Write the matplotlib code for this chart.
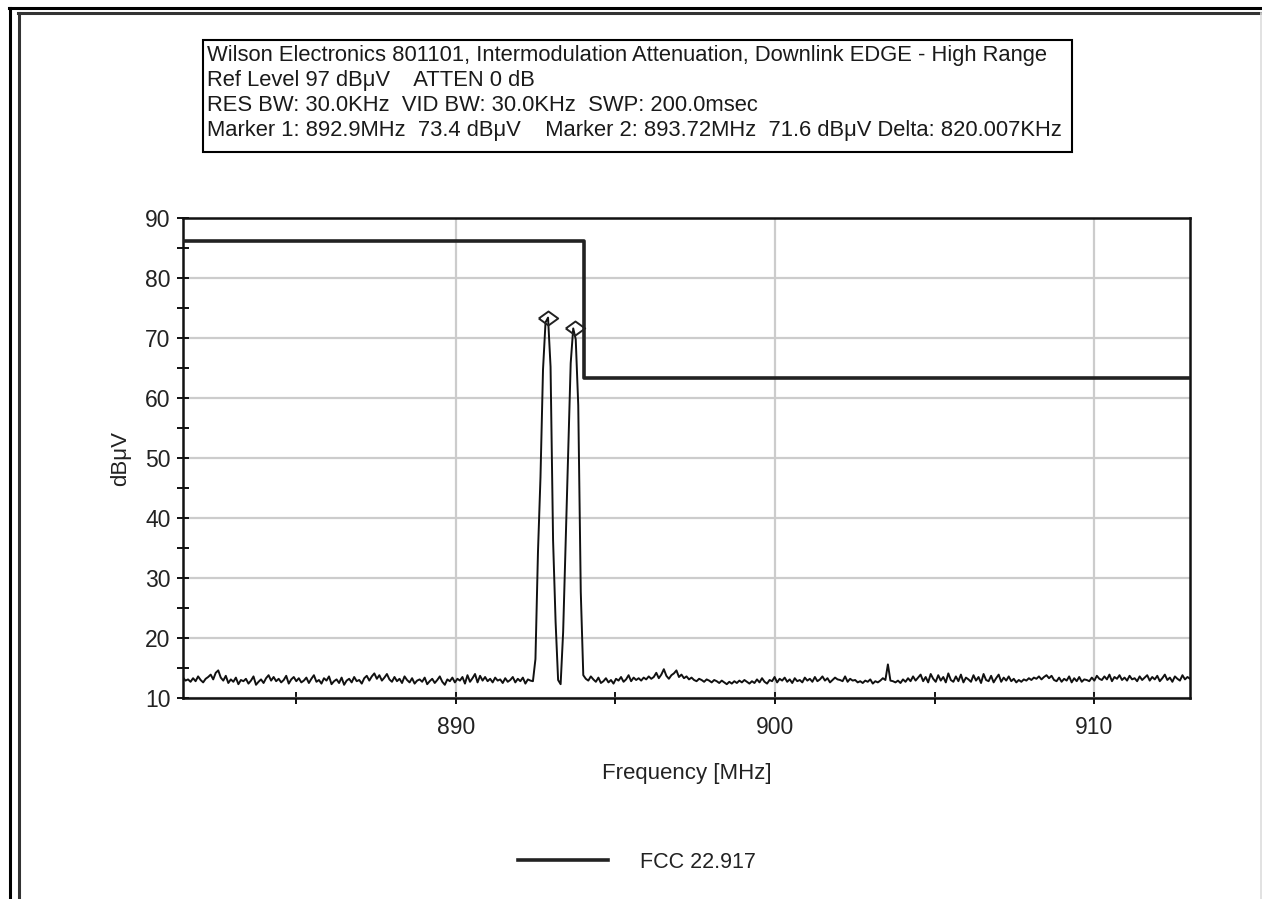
import matplotlib
matplotlib.use("Agg")
import matplotlib.pyplot as plt
from matplotlib.lines import Line2D
from matplotlib.patches import Rectangle
import numpy as np

plt.rcParams['font.family'] = ['Liberation Sans', 'DejaVu Sans']

# Header lines
header = [
    "Wilson Electronics 801101, Intermodulation Attenuation, Downlink EDGE - High Range",
    "Ref Level 97 dB\u03bcV    ATTEN 0 dB",
    "RES BW: 30.0KHz  VID BW: 30.0KHz  SWP: 200.0msec",
    "Marker 1: 892.9MHz  73.4 dB\u03bcV    Marker 2: 893.72MHz  71.6 dB\u03bcV Delta: 820.007KHz",
]

# Sweep: start / stop frequency (MHz) and number of points
f_start, f_stop, n_points = 881.45, 913.0, 401

# Measured trace (dBuV), one value per sweep point
trace = [
    13.4, 12.9, 13.1, 12.7, 13.3, 12.8, 13.6, 13.0, 12.6, 13.2, 13.5, 13.9, 13.1, 14.2, 14.6, 13.4, 12.9, 13.7, 12.5, 13.1,
    12.7, 13.4, 12.3, 13.0, 12.8, 13.2, 12.4, 12.9, 13.6, 12.2, 12.7, 13.1, 12.5, 13.3, 13.8, 12.9, 13.5, 12.8, 13.2, 12.6,
    13.0, 13.7, 12.4, 13.1, 13.5, 12.8, 13.3, 12.6, 12.9, 13.4, 12.5, 13.2, 13.8, 12.7, 13.0, 12.4, 13.3, 12.9, 13.6, 12.3,
    12.8, 13.1, 12.5, 13.4, 12.2, 12.9, 13.2, 12.6, 13.5, 12.8, 13.0, 12.4, 13.3, 13.7, 12.9, 13.6, 14.1, 13.2, 13.8, 12.9,
    13.4, 14.0, 13.1, 12.7, 13.5, 12.8, 13.2, 12.5, 13.6, 13.0, 12.6, 13.3, 12.4, 12.9, 13.1, 12.7, 13.4, 12.3, 12.8, 13.2,
    12.5, 13.0, 13.6, 12.7, 12.2, 13.1, 12.8, 13.4, 12.6, 13.2, 12.9, 13.5, 12.4, 13.8, 12.7, 13.3, 14.0, 12.6, 13.7, 12.9,
    13.5, 12.8, 13.2, 12.6, 13.4, 12.9, 13.1, 12.5, 13.3, 12.7, 13.0, 13.5, 12.6, 13.2, 12.8, 13.4, 12.4, 13.1, 12.9, 12.8,
    16.5, 34.3, 46.8, 64.7, 72.6, 73.4, 65.2, 36.3, 22.7, 13.0, 12.3, 21.0, 36.0, 51.0, 65.8, 71.6, 69.8, 58.8, 27.7, 13.8,
    13.2, 12.9, 13.6, 13.1, 12.7, 13.4, 12.5, 12.8, 13.3, 12.6, 13.0, 12.4, 13.2, 12.9, 13.5, 12.7, 13.1, 13.8, 12.8, 13.4,
    13.0, 13.3, 12.9, 13.4, 13.1, 13.6, 13.2, 13.5, 14.2, 13.3, 13.9, 14.8, 13.7, 13.2, 13.8, 14.1, 14.6, 13.5, 13.9, 13.3,
    13.6, 13.1, 13.4, 13.0, 12.8, 13.2, 13.0, 12.7, 13.1, 12.9, 12.6, 13.0, 12.8, 12.5, 12.9, 12.6, 12.3, 12.7, 12.4, 12.8,
    12.5, 12.9, 12.6, 13.0, 12.7, 12.4, 12.8, 12.5, 13.1, 12.6, 13.3, 12.7, 12.4, 13.0, 12.8, 13.5, 12.6, 13.2, 12.9, 13.4,
    12.7, 13.1, 12.5, 13.3, 12.8, 13.0, 12.6, 13.4, 12.9, 13.2, 12.7, 13.5, 12.8, 13.1, 13.6, 12.9, 13.3, 12.6, 13.0, 13.4,
    13.1, 13.0, 12.8, 13.6, 12.7, 13.2, 12.9, 13.0, 12.6, 12.8, 12.5, 12.9, 12.7, 13.1, 12.4, 12.8, 12.6, 12.9, 13.3, 13.0,
    15.6, 12.9, 12.8, 12.6, 12.9, 12.5, 13.1, 12.7, 13.3, 12.8, 13.6, 12.9, 13.4, 13.9, 12.8, 13.5, 12.6, 14.0, 13.2, 12.7,
    13.8, 12.9, 13.5, 12.6, 14.1, 13.0, 12.7, 13.6, 12.8, 13.9, 12.6, 13.4, 13.1, 12.7, 13.8, 12.9, 13.5, 12.5, 14.0, 13.0,
    12.8, 13.7, 12.6, 13.3, 13.9, 12.7, 13.4, 12.9, 13.6, 12.8, 13.2, 12.6, 13.0, 12.7, 13.1, 12.9, 13.3, 13.0, 13.4, 13.2,
    13.6, 13.1, 13.5, 13.8, 13.3, 13.7, 13.0, 12.8, 13.4, 12.7, 13.2, 12.9, 13.6, 12.6, 13.3, 12.8, 13.5, 12.7, 13.1, 13.0,
    12.8, 13.4, 12.9, 13.7, 13.2, 13.0, 13.6, 13.1, 13.9, 12.8, 13.5, 13.2, 13.8, 13.0, 13.4, 12.9, 13.7, 13.1, 13.3, 12.8,
    13.6, 13.0, 13.4, 13.8, 12.9, 13.5, 13.1, 13.7, 12.8, 13.3, 13.9, 13.0, 13.4, 12.7, 13.6, 13.2, 12.9, 13.8, 13.1, 13.5,
    13.2,
]

# FCC 22.917 limit line
limit_freq = [881.45, 894.0, 894.0, 913.0]
limit_level = [86.2, 86.2, 63.3, 63.3]
limit_label = "FCC 22.917"

# Markers
marker_freq = [892.9, 893.72]
marker_level = [73.4, 71.6]

freq = np.linspace(f_start, f_stop, n_points)

W, H = 1262, 899
fig = plt.figure(figsize=(W / 100, H / 100), dpi=100)
fig.patch.set_facecolor('white')

# Outer frames
fig.add_artist(Line2D([9 / W, 1], [1 - 8 / H, 1 - 8 / H], color='black', lw=2.2))
fig.add_artist(Line2D([9.5 / W, 9.5 / W], [0, 1 - 8 / H], color='black', lw=2.2))
fig.add_artist(Line2D([18 / W, 1261 / W], [1 - 13 / H, 1 - 13 / H], color='#333333', lw=2.2))
fig.add_artist(Line2D([18.5 / W, 18.5 / W], [0, 1 - 13 / H], color='#333333', lw=2.2))
fig.add_artist(Line2D([1260.5 / W, 1260.5 / W], [0, 1 - 13 / H], color='#dddddd', lw=1.2))

# Header box
fig.add_artist(Rectangle((203 / W, 1 - 152 / H), 869 / W, 112 / H, transform=fig.transFigure,
                         facecolor='white', edgecolor='black', lw=1.5))
for k, line in enumerate(header):
    fig.text(207 / W, 1 - (55 + k * 25.3) / H, line, ha='left', va='center',
             fontsize=15.8, color='#1a1a1a')

ax = fig.add_axes([183 / W, 1 - 698 / H, 1007 / W, 480 / H])

# Trace and limit line
ax.plot(freq, trace, color='#111111', lw=1.4, zorder=3)
limit, = ax.plot(limit_freq, limit_level, color='#222222', lw=2.6, zorder=4, label=limit_label)
diamond = [(-1, 0), (0, 0.72), (1, 0), (0, -0.72), (-1, 0)]
ax.plot(marker_freq, marker_level, ls='none', marker=diamond, ms=14, mfc='none',
        mec='#222222', mew=1.4, zorder=5)

ax.set_xlim(f_start, f_stop)
ax.set_ylim(10, 90)
ax.set_xticks([890, 900, 910])
ax.set_xticks([885, 895, 905], minor=True)
ax.set_yticks(range(10, 91, 10))
ax.set_yticks(range(15, 90, 10), minor=True)
ax.grid(True, which='major', color='#cccccc', lw=1.6, zorder=0)
ax.set_axisbelow(True)

for s in ax.spines.values():
    s.set_linewidth(1.8)
    s.set_color('#111111')

ax.tick_params(which='both', direction='inout', length=8, width=1.4, color='#111111',
               labelsize=16.5, labelcolor='#222222')
ax.tick_params(axis='x', which='both', pad=9)
ax.tick_params(axis='y', which='both', pad=5)

ax.set_xlabel("Frequency [MHz]", fontsize=16, color='#222222')
ax.set_ylabel("dB\u03bcV", fontsize=16, color='#222222')
ax.xaxis.set_label_coords(0.5, -0.135)
ax.yaxis.set_label_coords(-0.052, 0.5)

fig.legend(handles=[limit], loc='center', bbox_to_anchor=(637 / W, 1 - 862 / H),
           frameon=False, fontsize=15.5, handlelength=4.2, handletextpad=1.5,
           labelcolor='#222222')

fig.savefig("out.png", dpi=100, facecolor='white')
